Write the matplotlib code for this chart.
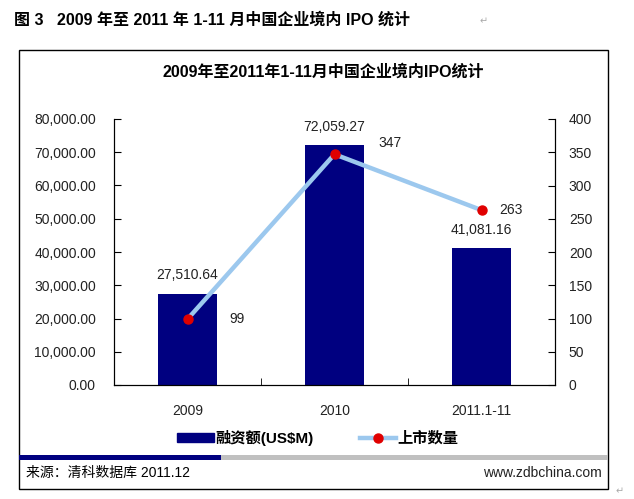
import matplotlib.pyplot as plt
from matplotlib.patches import Rectangle
from matplotlib.lines import Line2D
from matplotlib.ticker import FuncFormatter, MultipleLocator

plt.rcParams['font.family'] = ['Liberation Sans', 'Noto Sans CJK SC', 'DejaVu Sans']

categories = ["2009", "2010", "2011.1-11"]
financing = [27510.64, 72059.27, 41081.16]   # 融资额(US$M)
ipo_count = [99, 347, 263]                    # 上市数量

W, H = 634, 499
fig = plt.figure(figsize=(W / 100, H / 100), dpi=100)

def fx(px):
    return px / W

def fy(py):
    return 1 - py / H

# outer frame and footer strip
fig.patches.append(Rectangle((fx(19), fy(489)), fx(608) - fx(19), fy(50) - fy(489),
                             transform=fig.transFigure, fill=False, edgecolor="black", lw=1))
fig.patches.append(Rectangle((fx(19), fy(459.5)), fx(221) - fx(19), fy(455) - fy(459.5),
                             transform=fig.transFigure, color="#000080", lw=0))
fig.patches.append(Rectangle((fx(221), fy(459.5)), fx(608) - fx(221), fy(455) - fy(459.5),
                             transform=fig.transFigure, color="#c0c0c0", lw=0))

fig.text(fx(14), fy(20), "图 3   2009 年至 2011 年 1-11 月中国企业境内 IPO 统计",
         fontsize=11.5, fontweight="bold", va="center", ha="left")
fig.text(fx(480), fy(21), "↵", fontsize=7, color="#aaaaaa", va="center", family="DejaVu Sans")
fig.text(fx(616), fy(491), "↵", fontsize=7, color="#aaaaaa", va="center", family="DejaVu Sans")
fig.text(fx(323), fy(72), "2009年至2011年1-11月中国企业境内IPO统计",
         fontsize=11.5, fontweight="bold", va="center", ha="center")
fig.text(fx(26), fy(473), "来源：清科数据库 2011.12", fontsize=10, va="center", ha="left")
fig.text(fx(602), fy(473), "www.zdbchina.com", fontsize=10, va="center", ha="right", color="#222222")

ax = fig.add_axes([fx(114), fy(385), fx(555) - fx(114), fy(119) - fy(385)])
x = list(range(len(categories)))
ax.bar(x, financing, width=0.4, color="#000080", zorder=2)
ax.set_xlim(-0.5, len(categories) - 0.5)
ax.set_ylim(0, 80000)
ax.yaxis.set_major_locator(MultipleLocator(10000))
ax.yaxis.set_major_formatter(FuncFormatter(lambda v, p: f"{v:,.2f}"))
ax.set_xticks(x)
ax.set_xticklabels(categories)
ax.set_xticks([0.5, 1.5], minor=True)
ax.tick_params(axis="x", which="major", length=0, pad=14, labelsize=10, labelcolor="#222222")
ax.tick_params(axis="x", which="minor", direction="in", length=5)
ax.tick_params(axis="y", direction="in", length=5, pad=13, labelsize=10, labelcolor="#222222")
ax.spines["top"].set_visible(False)

for xi, v in zip(x, financing):
    ax.annotate(f"{v:,.2f}", (xi, v), xytext=(0, 13.5), textcoords="offset points",
                ha="center", va="center", fontsize=10, color="#222222")

ax2 = ax.twinx()
ax2.plot(x, ipo_count, color="#9cc8ee", lw=3.2, marker="o", markersize=6.5,
         markerfacecolor="#e00000", markeredgecolor="#e00000", zorder=3)
ax2.set_ylim(0, 400)
ax2.yaxis.set_major_locator(MultipleLocator(50))
ax2.tick_params(axis="y", direction="in", length=5, pad=10, labelsize=10, labelcolor="#222222")
ax2.spines["top"].set_visible(False)

label_offsets = [(36, 0), (40, 8), (21, 0)]
for xi, v, off in zip(x, ipo_count, label_offsets):
    ax2.annotate(str(v), (xi, v), xytext=off, textcoords="offset points",
                 ha="center", va="center", fontsize=10, color="#222222")

handles = [Rectangle((0, 0), 1, 1, color="#000080"),
           Line2D([], [], color="#9cc8ee", lw=3.2, marker="o", markersize=6.5,
                  markerfacecolor="#e00000", markeredgecolor="#e00000")]
fig.legend(handles, ["融资额(US$M)", "上市数量"], loc="center",
           bbox_to_anchor=(fx(318), fy(438)), ncol=2, frameon=False,
           handlelength=2.4, handleheight=0.5, handletextpad=0.1, columnspacing=3.0,
           prop={"size": 11, "weight": "bold"})

fig.savefig("out.png", dpi=100)
